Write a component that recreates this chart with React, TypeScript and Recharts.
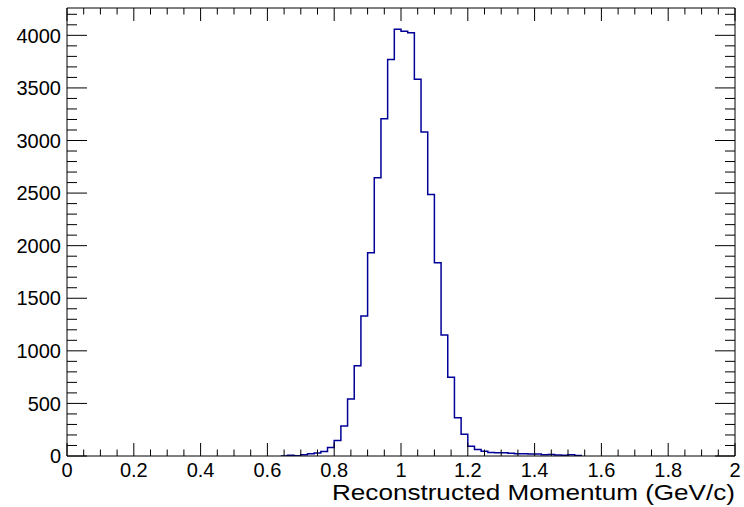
import { LineChart, Line, XAxis, YAxis } from 'recharts';

// left bin edges (width 0.02) and bin contents
const binEdges = [
  0.64, 0.66, 0.68, 0.7, 0.72, 0.74, 0.76, 0.78, 0.8, 0.82, 0.84, 0.86, 0.88, 0.9, 0.92, 0.94,
  0.96, 0.98, 1.0, 1.02, 1.04, 1.06, 1.08, 1.1, 1.12, 1.14, 1.16, 1.18, 1.2, 1.22, 1.24, 1.26,
  1.28, 1.3, 1.32, 1.34, 1.36, 1.38, 1.4, 1.42, 1.44, 1.46, 1.48, 1.5, 1.52, 1.54,
];
const counts = [
  0, 8, 3, 12, 22, 28, 42, 80, 148, 285, 541, 858, 1332, 1932, 2645, 3208,
  3770, 4057, 4038, 4025, 3582, 3081, 2486, 1837, 1150, 748, 364, 208, 92, 62, 45, 33,
  30, 30, 26, 22, 22, 20, 18, 12, 15, 10, 8, 12, 4, 0,
];

const xMajorTicks = [0, 0.2, 0.4, 0.6, 0.8, 1.0, 1.2, 1.4, 1.6, 1.8, 2.0];
const xLabels = ['0', '0.2', '0.4', '0.6', '0.8', '1', '1.2', '1.4', '1.6', '1.8', '2'];
const xAllTicks = [
  0, 0.05, 0.1, 0.15, 0.2, 0.25, 0.3, 0.35, 0.4, 0.45, 0.5, 0.55, 0.6, 0.65, 0.7, 0.75, 0.8,
  0.85, 0.9, 0.95, 1.0, 1.05, 1.1, 1.15, 1.2, 1.25, 1.3, 1.35, 1.4, 1.45, 1.5, 1.55, 1.6, 1.65,
  1.7, 1.75, 1.8, 1.85, 1.9, 1.95, 2.0,
];
const yMajorTicks = [0, 500, 1000, 1500, 2000, 2500, 3000, 3500, 4000];
const yLabels = ['0', '500', '1000', '1500', '2000', '2500', '3000', '3500', '4000'];
const yAllTicks = [
  0, 100, 200, 300, 400, 500, 600, 700, 800, 900, 1000, 1100, 1200, 1300, 1400, 1500, 1600,
  1700, 1800, 1900, 2000, 2100, 2200, 2300, 2400, 2500, 2600, 2700, 2800, 2900, 3000, 3100,
  3200, 3300, 3400, 3500, 3600, 3700, 3800, 3900, 4000, 4100, 4200,
];
const yMax = 4260;

const data = binEdges.map((x, i) => ({ x, count: counts[i] }));

const FONT = '"Liberation Sans", Arial, sans-serif';

const majorIndex = (list: number[], v: number) => list.findIndex(t => Math.abs(t - v) < 1e-6);

function BottomTick({ x, y, payload }: any) {
  const i = majorIndex(xMajorTicks, payload.value);
  return (
    <g>
      <line x1={x} y1={y} x2={x} y2={y - (i >= 0 ? 13 : 6.5)} stroke="#000" />
      {i >= 0 && (
        <text x={x} y={y + 21} textAnchor="middle" fontSize={20} fontFamily={FONT} fill="#000">
          {xLabels[i]}
        </text>
      )}
    </g>
  );
}

function TopTick({ x, y, payload }: any) {
  const i = majorIndex(xMajorTicks, payload.value);
  return <line x1={x} y1={y} x2={x} y2={y + (i >= 0 ? 13 : 6.5)} stroke="#000" />;
}

function LeftTick({ x, y, payload }: any) {
  const i = majorIndex(yMajorTicks, payload.value);
  return (
    <g>
      <line x1={x} y1={y} x2={x + (i >= 0 ? 20 : 10)} y2={y} stroke="#000" />
      {i >= 0 && (
        <text x={x - 6} y={y} dy="0.36em" textAnchor="end" fontSize={20} fontFamily={FONT} fill="#000">
          {yLabels[i]}
        </text>
      )}
    </g>
  );
}

function RightTick({ x, y, payload }: any) {
  const i = majorIndex(yMajorTicks, payload.value);
  return <line x1={x} y1={y} x2={x - (i >= 0 ? 20 : 10)} y2={y} stroke="#000" />;
}

export default function App() {
  return (
    <div style={{ position: 'absolute', left: 0, top: 0, background: '#fff' }}>
      <LineChart width={744} height={507} data={data} margin={{ top: 0, right: 0, bottom: 0, left: 0 }}>
        <XAxis
          dataKey="x"
          type="number"
          domain={[0, 2]}
          allowDataOverflow
          ticks={xAllTicks}
          interval={0}
          tickSize={0}
          tickMargin={0}
          tickLine={false}
          tick={BottomTick}
          height={51}
          axisLine={{ stroke: '#000' }}
          label={{
            position: 'insideBottomRight',
            content: ({ viewBox }: any) => (
              <text
                x={viewBox.x + viewBox.width}
                y={viewBox.y + 44}
                textAnchor="end"
                fontSize={22}
                fontFamily={FONT}
                fill="#000"
                textLength={403}
                lengthAdjust="spacingAndGlyphs"
              >
                Reconstructed Momentum (GeV/c)
              </text>
            ),
          }}
        />
        <XAxis
          xAxisId="top"
          dataKey="x"
          orientation="top"
          type="number"
          domain={[0, 2]}
          allowDataOverflow
          ticks={xAllTicks}
          interval={0}
          tickSize={0}
          tickMargin={0}
          tickLine={false}
          tick={TopTick}
          height={8}
          axisLine={{ stroke: '#000' }}
        />
        <YAxis
          type="number"
          domain={[0, yMax]}
          allowDataOverflow
          ticks={yAllTicks}
          interval={0}
          tickSize={0}
          tickMargin={0}
          tickLine={false}
          tick={LeftTick}
          width={67}
          axisLine={{ stroke: '#000' }}
        />
        <YAxis
          yAxisId="right"
          orientation="right"
          type="number"
          domain={[0, yMax]}
          allowDataOverflow
          ticks={yAllTicks}
          interval={0}
          tickSize={0}
          tickMargin={0}
          tickLine={false}
          tick={RightTick}
          width={9}
          axisLine={{ stroke: '#000' }}
        />
        {/* invisible copy so the top/right frame axes get a numeric scale */}
        <Line
          xAxisId="top"
          yAxisId="right"
          type="stepAfter"
          dataKey="count"
          stroke="none"
          dot={false}
          legendType="none"
          isAnimationActive={false}
        />
        <Line
          type="stepAfter"
          dataKey="count"
          stroke="#000099"
          strokeWidth={1.5}
          dot={false}
          isAnimationActive={false}
        />
      </LineChart>
    </div>
  );
}
